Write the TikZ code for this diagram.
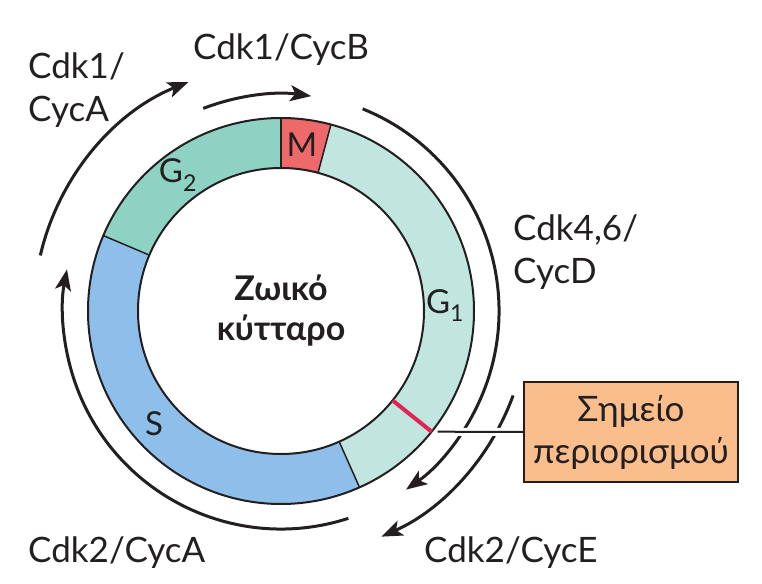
\documentclass[tikz,border=0pt]{standalone}
\usepackage{fontspec}
\setmainfont{Lato}
\usetikzlibrary{arrows.meta}
\definecolor{gtwo}{RGB}{142,210,196}
\definecolor{gone}{RGB}{192,230,223}
\definecolor{sblue}{RGB}{142,190,234}
\definecolor{mred}{RGB}{238,106,106}
\definecolor{rred}{RGB}{226,35,85}
\definecolor{boxor}{RGB}{250,190,140}
\definecolor{ink}{RGB}{35,31,32}
\begin{document}
\begin{tikzpicture}[x=1pt,y=1pt,
  ring/.style={draw=ink,line width=2pt},
  cyc/.style={draw=ink,line width=3pt,-{Stealth[length=21pt,width=16pt,inset=5pt]}},
  lab/.style={text=ink,font=\fontsize{35}{43}\selectfont,align=left,inner sep=0pt},
  ph/.style={text=ink,font=\fontsize{33}{36}\selectfont,inner sep=0pt}]
\useasboundingbox (-281,311) rectangle (481,-272);
\def\phases{75/90/mred,90/157/gtwo,157/294/sblue,294/435/gone}
\foreach \a/\b/\c in \phases
  \fill[\c] (\a:193pt) arc[start angle=\a,end angle=\b,radius=193pt]
    -- (\b:143pt) arc[start angle=\b,end angle=\a,radius=143pt] -- cycle;
\draw[ring] (0,0) circle[radius=193pt] (0,0) circle[radius=143pt];
\foreach \a in {75,90,157,294}
  \draw[ink,line width=1.5pt] (\a:143pt) -- (\a:193pt);
\draw[rred,line width=4pt] (-38.7:143pt) -- (-38.7:193pt) coordinate (rpt);
\def\arcs{247/167/112,217/111/82,218/68/-55,247/-20/-66,218/-72/-191}
\foreach \r/\s/\e in \arcs
  \draw[cyc] (\s:\r pt) arc[start angle=\s,end angle=\e,radius=\r pt];
\node[ph] (g2) at (-103,136) {G\textsubscript{2}};
\node[ph] (m) at (21,166) {M};
\node[ph] (g1) at (164,5) {G\textsubscript{1}};
\node[ph] (s) at (-127,-113) {S};
\node[text=ink,font=\bfseries\fontsize{34}{40}\selectfont,align=center,inner sep=0pt,anchor=north]
  (cell) at (0,36) {Ζωικό\\κύτταρο};
\node[draw=ink,line width=2.5pt,fill=boxor,minimum width=214pt,minimum height=100pt,
  align=center,text=ink,font=\fontsize{35}{42}\selectfont,inner sep=0pt]
  (restr) at (350,-121) {Σημείο\\περιορισμού};
\draw[ink,line width=2pt,shorten <=6pt,preaction={draw=white,line width=8pt,shorten <=6pt}]
  (rpt) -- (restr.west);
\node[lab,anchor=base west] (cdkb) at (-88,251) {Cdk1/CycB};
\node[lab,anchor=north west] (cdka) at (-253,258) {Cdk1/\\CycA};
\node[lab,anchor=north west] (cdkd) at (232,96) {Cdk4,6/\\CycD};
\node[lab,anchor=base west] (cdkatwo) at (-253,-251) {Cdk2/CycA};
\node[lab,anchor=base west] (cdke) at (143,-251) {Cdk2/CycE};
\end{tikzpicture}
\end{document}
